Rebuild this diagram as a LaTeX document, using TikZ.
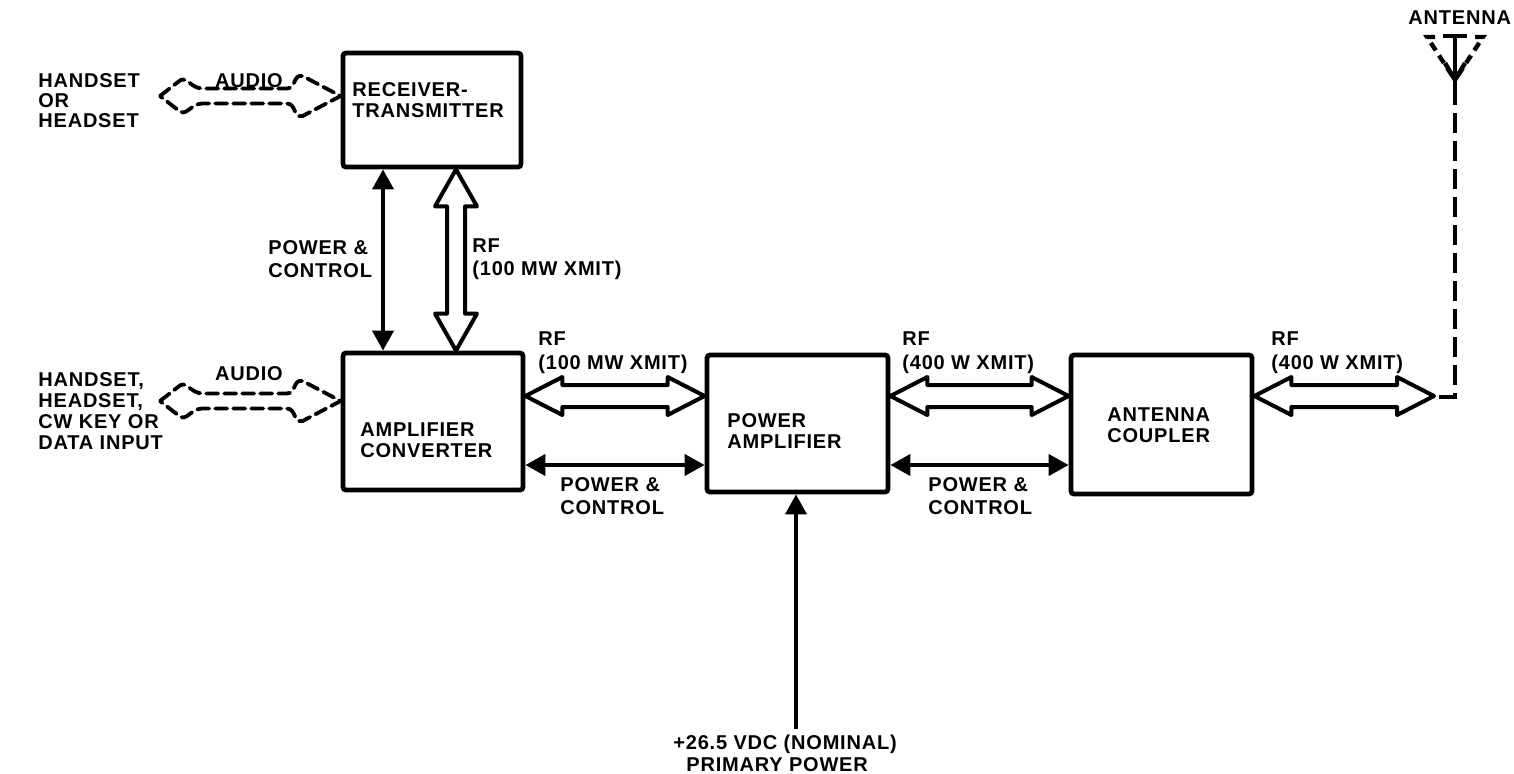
\documentclass[tikz,border=0pt]{standalone}
\usepackage{fontspec}
\setmainfont{Liberation Sans}[LetterSpace=4]
\usetikzlibrary{arrows.meta,calc}
\tikzset{
  box/.style={draw, line width=2.4pt, rounded corners=1.5pt, inner sep=0pt},
  lab/.style={font=\bfseries\fontsize{10}{10.5}\selectfont, align=left, inner sep=0pt, anchor=north west},
  side/.style={lab, font=\bfseries\fontsize{10}{11.5}\selectfont},
  blk/.style={line width=2pt, {Triangle[length=10pt,width=10.5pt]}-{Triangle[length=10pt,width=10.5pt]}},
  blkone/.style={line width=2pt, -{Triangle[length=10pt,width=10.5pt]}},
  hol/.style={line width=2pt, line join=round},
  aud/.style={line width=1.9pt, dash pattern=on 6pt off 3pt, line join=round, line cap=round},
  antdash/.style={line width=2.2pt, dash pattern=on 10pt off 4pt},
}
\newcommand\hollowH[2]{\draw[hol] let \p1=#1, \p2=#2 in
  (\x1,\y1) -- (\x1+18.5pt,\y1+9.5pt) -- (\x1+18.5pt,\y1+5.5pt) -- (\x2-18.5pt,\y1+5.5pt)
  -- (\x2-18.5pt,\y1+9.5pt) -- (\x2,\y1) -- (\x2-18.5pt,\y1-9.5pt) -- (\x2-18.5pt,\y1-5.5pt)
  -- (\x1+18.5pt,\y1-5.5pt) -- (\x1+18.5pt,\y1-9.5pt) -- cycle;}
\newcommand\hollowV[2]{\draw[hol] let \p1=#1, \p2=#2 in
  (\x1,\y1) -- (\x1-10.5pt,\y1-18.5pt) -- (\x1-4.5pt,\y1-18.5pt) -- (\x1-4.5pt,\y2+18.5pt)
  -- (\x1-10.5pt,\y2+18.5pt) -- (\x1,\y2) -- (\x1+10.5pt,\y2+18.5pt) -- (\x1+4.5pt,\y2+18.5pt)
  -- (\x1+4.5pt,\y1-18.5pt) -- (\x1+10.5pt,\y1-18.5pt) -- cycle;}
\newcommand\audioArrow[2]{\draw[aud] let \p1=#1, \p2=#2 in
  (\x1,\y1) -- (\x1+9pt,\y1+7pt) .. controls (\x1+13pt,\y1+11pt) and (\x1+15pt,\y1+4pt) .. (\x1+21pt,\y1+3.75pt)
  -- (\x2-27pt,\y1+3.75pt) .. controls (\x2-22pt,\y1+3.75pt) and (\x2-24pt,\y1+11pt) .. (\x2-19pt,\y1+10pt)
  -- (\x2,\y1) -- (\x2-19pt,\y1-10pt) .. controls (\x2-24pt,\y1-11pt) and (\x2-22pt,\y1-3.75pt) .. (\x2-27pt,\y1-3.75pt)
  -- (\x1+21pt,\y1-3.75pt) .. controls (\x1+15pt,\y1-4pt) and (\x1+13pt,\y1-11pt) .. (\x1+9pt,\y1-7pt) -- cycle;}
\begin{document}
\begin{tikzpicture}[x=0.5pt,y=-0.5pt]
\useasboundingbox (0,0) rectangle (1514,773);
% boxes
\node[box, minimum width=89pt, minimum height=57pt] (rt) at (432,110) {};
\node[box, minimum width=90pt, minimum height=68.5pt] (ac) at (433,421.5) {};
\node[box, minimum width=90.5pt, minimum height=68.5pt] (pa) at (797.5,423.5) {};
\node[box, minimum width=90.5pt, minimum height=69.5pt] (cp) at (1161.5,424.5) {};
% box texts
\node[lab] (trt) at (352,82) {RECEIVER-\\TRANSMITTER};
\node[lab] (tac) at (360,422) {AMPLIFIER\\CONVERTER};
\node[lab] (tpa) at (727,413) {POWER\\AMPLIFIER};
\node[lab] (tcp) at (1107,407) {ANTENNA\\COUPLER};
% left labels
\node[lab, font=\bfseries\fontsize{10}{10}\selectfont] (hs1) at (38,73) {HANDSET\\OR\\HEADSET};
\node[lab] (hs2) at (38,372) {HANDSET,\\HEADSET,\\CW KEY OR\\DATA INPUT};
\node[lab, anchor=north] (au1) at (249,73) {AUDIO};
\node[lab, anchor=north] (au2) at (249,366) {AUDIO};
% audio arrows
\coordinate (a1) at (160,96);
\coordinate (a2) at (160,401);
\audioArrow{(a1)}{(rt.west |- a1)}
\audioArrow{(a2)}{(ac.west |- a2)}
% vertical links RT - AC
\coordinate (vx) at (383,0);
\coordinate (rx) at (456,0);
\draw[blk] (rt.south -| vx) -- (ac.north -| vx);
\hollowV{(rt.south -| rx)}{(ac.north -| rx)}
\node[side] (pc1) at (268,240) {POWER \&\\CONTROL};
\node[side] (rf1) at (472,238) {RF\\(100 MW XMIT)};
% horizontal links
\coordinate (rfy) at (0,396);
\coordinate (pcy) at (0,465);
\hollowH{(ac.east |- rfy)}{(pa.west |- rfy)}
\hollowH{(pa.east |- rfy)}{(cp.west |- rfy)}
\coordinate (atip) at (1434,396);
\hollowH{(cp.east |- rfy)}{(atip)}
\draw[blk] (ac.east |- pcy) -- (pa.west |- pcy);
\draw[blk] (pa.east |- pcy) -- (cp.west |- pcy);
\node[side, font=\bfseries\fontsize{10}{12}\selectfont] (rf2) at (538,331) {RF\\(100 MW XMIT)};
\node[side, font=\bfseries\fontsize{10}{12}\selectfont] (rf3) at (902,331) {RF\\(400 W XMIT)};
\node[side, font=\bfseries\fontsize{10}{12}\selectfont] (rf4) at (1271,331) {RF\\(400 W XMIT)};
\node[side] (pc2) at (560,477) {POWER \&\\CONTROL};
\node[side] (pc3) at (928,477) {POWER \&\\CONTROL};
% primary power
\coordinate (pw) at (796,729);
\draw[blkone] (pw) -- (pa.south -| pw);
\node[lab] (pp1) at (673,735) {+26.5 VDC (NOMINAL)};
\node[lab] (pp2) at (686,757) {PRIMARY POWER};
% antenna
\coordinate (d0) at (1439,397);
\coordinate (d1) at (1455,397);
\coordinate (d2) at (1455,100);
\draw[antdash] (d0) -- (d1) -- (d2);
\draw[line width=2.2pt, dash pattern=on 4.5pt off 3pt] (1435,37) -- (1427,37) -- (1455,80);
\draw[line width=2.2pt, dash pattern=on 4.5pt off 3pt] (1475,37) -- (1483,37) -- (1455,80);
\draw[line width=2.2pt] (1443,36) -- (1467,36) (1455,36) -- (d2);
\draw[line width=2.2pt] (1445,63) -- (1455,80) -- (1465,63);
\node[lab] (ant) at (1408,10) {ANTENNA};
\end{tikzpicture}
\end{document}
